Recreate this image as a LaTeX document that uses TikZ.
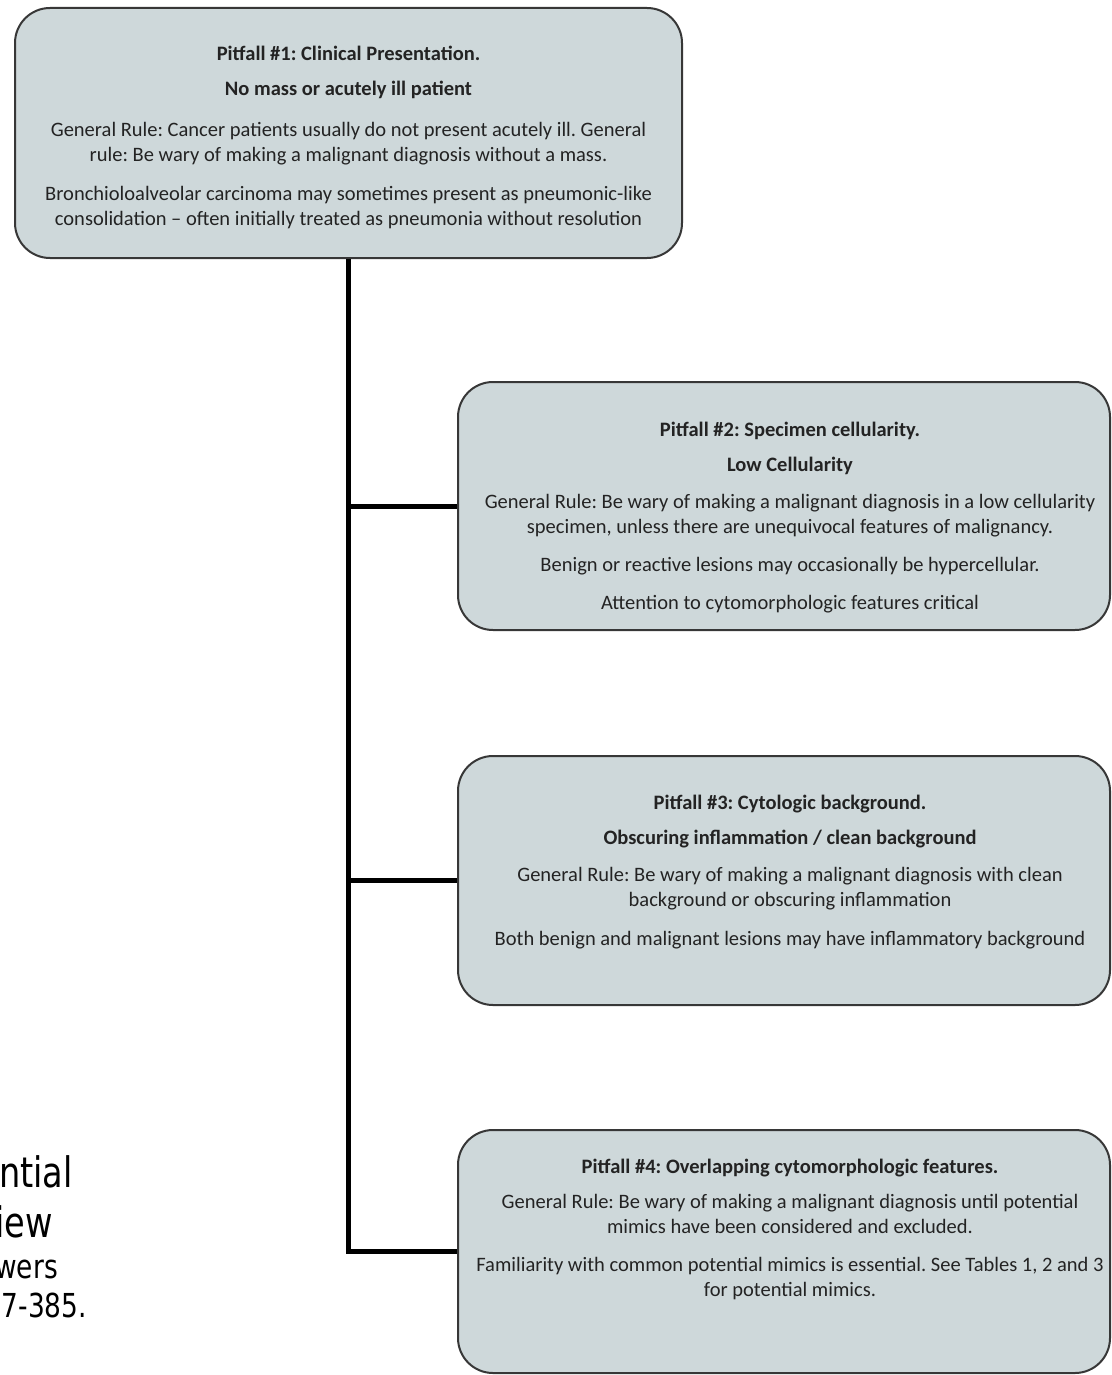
\documentclass[tikz,border=0pt]{standalone}
\usepackage{fontspec}
\setmainfont{Carlito}
\newfontfamily\slidefont[FakeStretch=0.8]{DejaVu Sans}
\usetikzlibrary{positioning}
\definecolor{boxfill}{RGB}{206,216,218}
\definecolor{boxline}{RGB}{55,55,55}
\definecolor{boxtext}{RGB}{35,35,35}
\frenchspacing

\tikzset{
  pitfall/.style={draw=boxline, line width=2pt, fill=boxfill, rounded corners=35pt, inner sep=0pt},
  pitfalltext/.style={align=center, inner sep=0pt, text=boxtext, font=\fontsize{20.5}{25}\selectfont},
  trunk/.style={line width=5pt, line join=miter},
  bigslide/.style={anchor=base east, inner sep=0pt, font=\slidefont\fontsize{42}{42}\selectfont},
  smallslide/.style={anchor=base east, inner sep=0pt, font=\slidefont\fontsize{33}{33}\selectfont}
}

\begin{document}
\begin{tikzpicture}[x=1pt,y=-1pt]
\useasboundingbox (0,0) rectangle (1111,1375);
\clip (0,0) rectangle (1111,1375);

% pitfall boxes
\node[pitfall, minimum width=667pt, minimum height=250pt] (p1) at (348.5,133) {};
\node[pitfall, minimum width=652pt, minimum height=248pt] (p2) at (784,506) {};
\node[pitfall, minimum width=652pt, minimum height=249pt] (p3) at (784,880.5) {};
\node[pitfall, minimum width=652pt, minimum height=243pt] (p4) at (784,1251.5) {};

\node[pitfalltext, below=39pt of p1.north] (t1) {\textbf{Pitfall \#1: Clinical Presentation.}\\[10pt]
  \textbf{No mass or acutely ill patient}\\[16pt]
  General Rule: Cancer patients usually do not present acutely ill. General\\
  rule: Be wary of making a malignant diagnosis without a mass.\\[14pt]
  Bronchioloalveolar carcinoma may sometimes present as pneumonic-like\\
  consolidation -- often initially treated as pneumonia without resolution};
\node[pitfalltext, below=41pt of p2.north, xshift=6pt] (t2) {\textbf{Pitfall \#2: Specimen cellularity.}\\[10pt]
  \textbf{Low Cellularity}\\[12pt]
  General Rule: Be wary of making a malignant diagnosis in a low cellularity\\
  specimen, unless there are unequivocal features of malignancy.\\[13pt]
  Benign or reactive lesions may occasionally be hypercellular.\\[13pt]
  Attention to cytomorphologic features critical};
\node[pitfalltext, below=40pt of p3.north, xshift=6pt] (t3) {\textbf{Pitfall \#3: Cytologic background.}\\[10pt]
  \textbf{Obscuring inflammation / clean background}\\[12pt]
  General Rule: Be wary of making a malignant diagnosis with clean\\
  background or obscuring inflammation\\[14pt]
  Both benign and malignant lesions may have inflammatory background};
\node[pitfalltext, below=30pt of p4.north, xshift=6pt] (t4) {\textbf{Pitfall \#4: Overlapping cytomorphologic features.}\\[10pt]
  General Rule: Be wary of making a malignant diagnosis until potential\\
  mimics have been considered and excluded.\\[13pt]
  Familiarity with common potential mimics is essential. See Tables 1, 2 and 3\\
  for potential mimics.};

% tree lines
\draw[trunk] (p1.south) -- (p1.south |- p4.west) -- (p4.west);
\draw[trunk] (p1.south |- p2.west) -- (p2.west);
\draw[trunk] (p1.south |- p3.west) -- (p3.west);

% cut-off slide text on the left
\node[bigslide] (s1) at (73,1187) {ntial};
\node[bigslide] (s2) at (53,1237) {iew};
\node[smallslide] (s3) at (58,1278) {wers};
\node[smallslide] (s4) at (87,1317) {7-385.};
\end{tikzpicture}
\end{document}
